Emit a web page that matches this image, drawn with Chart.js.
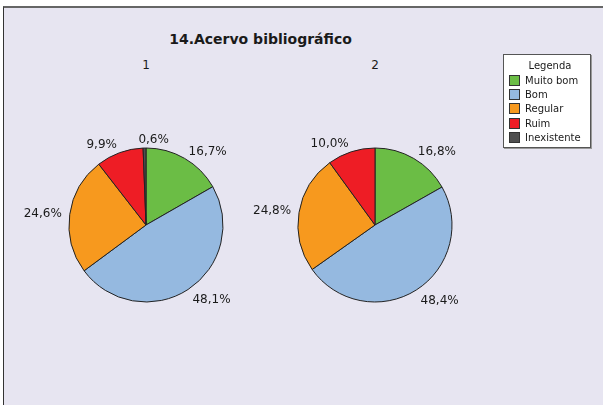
<!DOCTYPE html>
<html>
<head>
<meta charset="utf-8">
<script src="https://cdn.jsdelivr.net/npm/chart.js@4/dist/chart.umd.min.js"></script>
<style>
  html, body { margin: 0; padding: 0; background: #fff; overflow: hidden; }
  body { width: 603px; height: 405px; position: relative; font-family: "DejaVu Sans", Verdana, sans-serif; color: #1a1a1a; }
  #frame { position: absolute; left: 3px; top: 6px; width: 599px; height: 398px; background: #E7E5F1; border-left: 1px solid #333; border-top: 2px solid #666; }
  #titulo { position: absolute; left: 0; width: 521px; top: 31px; text-align: center; font-weight: bold; font-size: 14px; }
  .sub { position: absolute; top: 58px; font-size: 12px; width: 40px; text-align: center; }
  canvas { position: absolute; }
  #legenda { position: absolute; left: 503px; top: 54px; width: 86px; height: 92px; background: #fff; border: 1px solid #555; box-shadow: 1px 1px 0 #999; font-size: 10px; }
  #legenda .tit { text-align: center; margin-top: 5px; margin-bottom: 2px; padding-left: 6px; }
  #legenda .item { height: 14.4px; display: flex; align-items: center; padding-left: 5px; }
  #legenda .sw { width: 11px; height: 11px; border: 1px solid #333; margin-right: 5px; box-sizing: border-box; }
</style>
</head>
<body>
<div id="frame"></div>
<div id="titulo">14.Acervo bibliográfico</div>
<div class="sub" style="left:126px">1</div>
<div class="sub" style="left:355px">2</div>
<canvas id="pie1" width="280" height="220" style="left:6px; top:115px"></canvas>
<canvas id="pie2" width="280" height="220" style="left:235px; top:115px"></canvas>
<div id="legenda"><div class="tit">Legenda</div></div>
<script>
const categorias = ["Muito bom", "Bom", "Regular", "Ruim", "Inexistente"];
const cores = ["#6BBD45", "#95B9E0", "#F7991E", "#EE1D25", "#4F4F4F"];
const valores1 = [16.7, 48.1, 24.6, 9.9, 0.6];
const valores2 = [16.8, 48.4, 24.8, 10.0, 0.0];

function formatPct(v) {
  return v.toFixed(1).replace(".", ",") + "%";
}

// rótulos fora da pizza, no ângulo médio de cada fatia (estilo Excel)
const rotulosExternos = {
  id: "rotulosExternos",
  afterDatasetsDraw(chart) {
    const ctx = chart.ctx;
    const meta = chart.getDatasetMeta(0);
    const dados = chart.data.datasets[0].data;
    ctx.save();
    ctx.font = "12px 'DejaVu Sans'";
    ctx.fillStyle = "#1a1a1a";
    ctx.textBaseline = "middle";
    meta.data.forEach((arc, i) => {
      if (!dados[i]) return;
      const a = (arc.startAngle + arc.endAngle) / 2;
      const r = arc.outerRadius + 8;
      const x = arc.x + Math.cos(a) * r;
      let y = arc.y + Math.sin(a) * r;
      if (Math.sin(a) > 0) y += 5 * Math.sin(a);
      ctx.textAlign = Math.cos(a) > -0.1 ? "left" : "right";
      ctx.fillText(formatPct(dados[i]), x - (Math.abs(Math.cos(a)) < 0.1 ? 6 : 0), y);
    });
    ctx.restore();
  }
};

function criarPizza(id, valores) {
  return new Chart(document.getElementById(id).getContext("2d"), {
    type: "pie",
    data: {
      labels: categorias,
      datasets: [{
        data: valores,
        backgroundColor: cores,
        borderColor: "#222",
        borderWidth: 1
      }]
    },
    options: {
      responsive: false,
      animation: false,
      radius: 77,
      layout: { padding: 0 },
      plugins: {
        legend: { display: false },
        tooltip: { enabled: false }
      }
    },
    plugins: [rotulosExternos]
  });
}

criarPizza("pie1", valores1);
criarPizza("pie2", valores2);

const legenda = document.getElementById("legenda");
categorias.forEach((c, i) => {
  const div = document.createElement("div");
  div.className = "item";
  div.innerHTML = `<span class="sw" style="background:${cores[i]}"></span><span>${c}</span>`;
  legenda.appendChild(div);
});
</script>
</body>
</html>
